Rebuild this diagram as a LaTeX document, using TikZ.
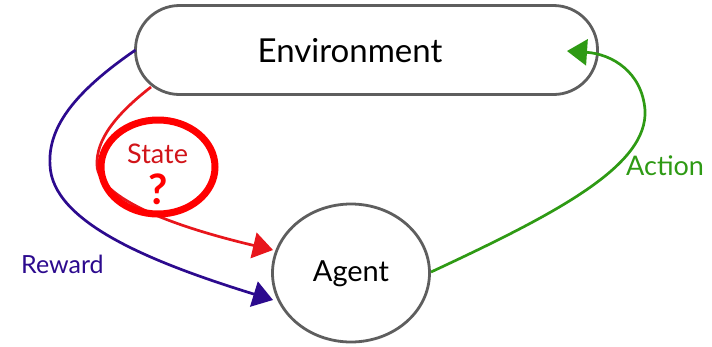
\documentclass[tikz,border=0pt]{standalone}
\usepackage{fontspec}
\setmainfont{Lato}
\usetikzlibrary{arrows.meta,shapes.geometric}
\definecolor{boxgray}{HTML}{5E5E5E}
\definecolor{rewardblue}{HTML}{2C0A8E}
\definecolor{statered}{HTML}{E8161C}
\definecolor{actiongreen}{HTML}{2E9A14}
\definecolor{markred}{HTML}{FF0000}
\tikzset{
  x=1pt, y=-1pt,
  unit/.style={draw=boxgray, line width=2.8pt, fill=white, inner sep=0pt},
  link/.style={line width=2.7pt, -{Triangle[length=20pt,width=26pt]}},
  lbl/.style={inner sep=0pt, anchor=base west},
}
\begin{document}
\begin{tikzpicture}
\useasboundingbox (0,0) rectangle (712,346);

% the two parts of the loop
\node[unit, rounded corners=44pt, minimum width=462pt, minimum height=89pt]
  (env) at (366.5,50) {};
\node[font=\fontsize{33}{36}\selectfont, inner sep=0pt] (envtext) at (350,51) {Environment};
\node[unit, ellipse, minimum width=157pt, minimum height=138pt] (agent) at (351,273) {};
\node[font=\fontsize{29}{32}\selectfont, inner sep=0pt] (agenttext) at (351,274) {Agent};

% connection points on the outlines
\coordinate (rewardout) at (135.5,50);
\coordinate (stateout) at (151,87);
\coordinate (actionin) at (567,51);
\coordinate (actionout) at (431,272);
\coordinate (statein) at (273,250);
\coordinate (rewardin) at (273,300);

% reward
\draw[link, rewardblue] (rewardout)
  .. controls (70,95) and (48,130) .. (50,165)
  .. controls (52,222) and (150,262) .. (rewardin);
% state
\draw[link, statered] (stateout)
  .. controls (115,115) and (96,140) .. (97,165)
  .. controls (98,200) and (180,228) .. (statein);
% action
\draw[link, actiongreen] (actionout)
  .. controls (560,212) and (648,165) .. (645,110)
  .. controls (642,72) and (612,54) .. (actionin);

% labels
\node[lbl, text=rewardblue, font=\fontsize{25}{28}\selectfont] (reward) at (21,273) {Reward};
\node[lbl, text=actiongreen, font=\fontsize{27}{30}\selectfont] (action) at (626,175) {Action};
\node[lbl, text=statered!90!black, font=\fontsize{27}{30}\selectfont] (state) at (127,163) {State};
\node[text=markred, font=\bfseries\fontsize{42}{44}\selectfont, inner sep=0pt] (query) at (158,189) {?};

% highlight ring round the state label
\draw[markred, line width=7pt] (158,167) ellipse[x radius=57pt, y radius=47pt];
\end{tikzpicture}
\end{document}
